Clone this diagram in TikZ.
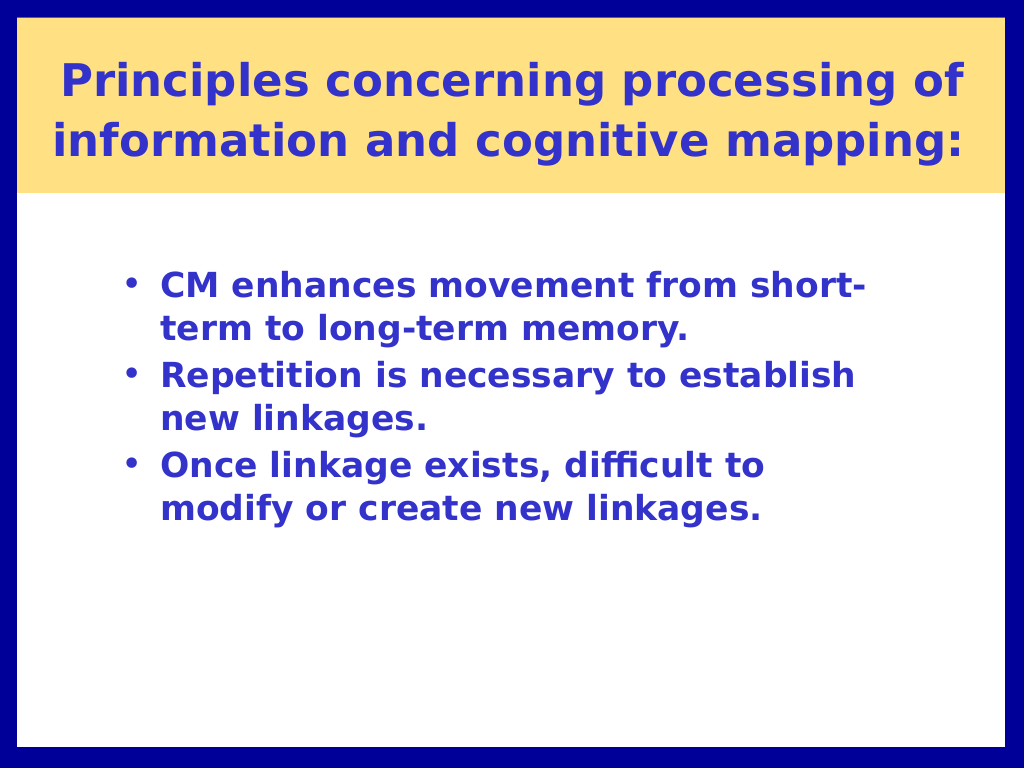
\documentclass[tikz,border=0pt]{standalone}
\usepackage{fontspec}
\setmainfont{DejaVu Sans}
\definecolor{frame}{RGB}{0,0,153}
\definecolor{head}{RGB}{255,224,130}
\definecolor{txt}{RGB}{51,51,204}
\begin{document}
\begin{tikzpicture}[x=1pt,y=-1pt,
  title/.style={anchor=base west,text=txt,font=\bfseries\fontsize{45}{45}\selectfont,inner sep=0},
  item/.style={anchor=base west,text=txt,font=\bfseries\fontsize{34.5}{34.5}\selectfont,inner sep=0},
  dot/.style={anchor=base west,text=txt,font=\fontsize{36}{36}\selectfont,inner sep=0}]
\fill[frame] (0,0) rectangle (1024,768);
\fill[white] (17,17) rectangle (1005,747);
\fill[head] (17,17) rectangle (1005,193);
\draw[brown!70!black,line width=1] (17,18) -- (1005,18);
\node[title] (t1) at (60,96) {Principles concerning processing of};
\node[title] (t2) at (52,156) {information and cognitive mapping:};
\node[dot] (b1) at (121,296) {•};
\node[item] (l1) at (160,297) {CM enhances movement from short-};
\node[item] (l2) at (160,340) {term to long-term memory.};
\node[dot] (b2) at (121,386) {•};
\node[item] (l3) at (160,387) {Repetition is necessary to establish};
\node[item] (l4) at (160,430) {new linkages.};
\node[dot] (b3) at (121,476) {•};
\node[item] (l5) at (160,477) {Once linkage exists, difficult to};
\node[item] (l6) at (160,520) {modify or create new linkages.};
\end{tikzpicture}
\end{document}
